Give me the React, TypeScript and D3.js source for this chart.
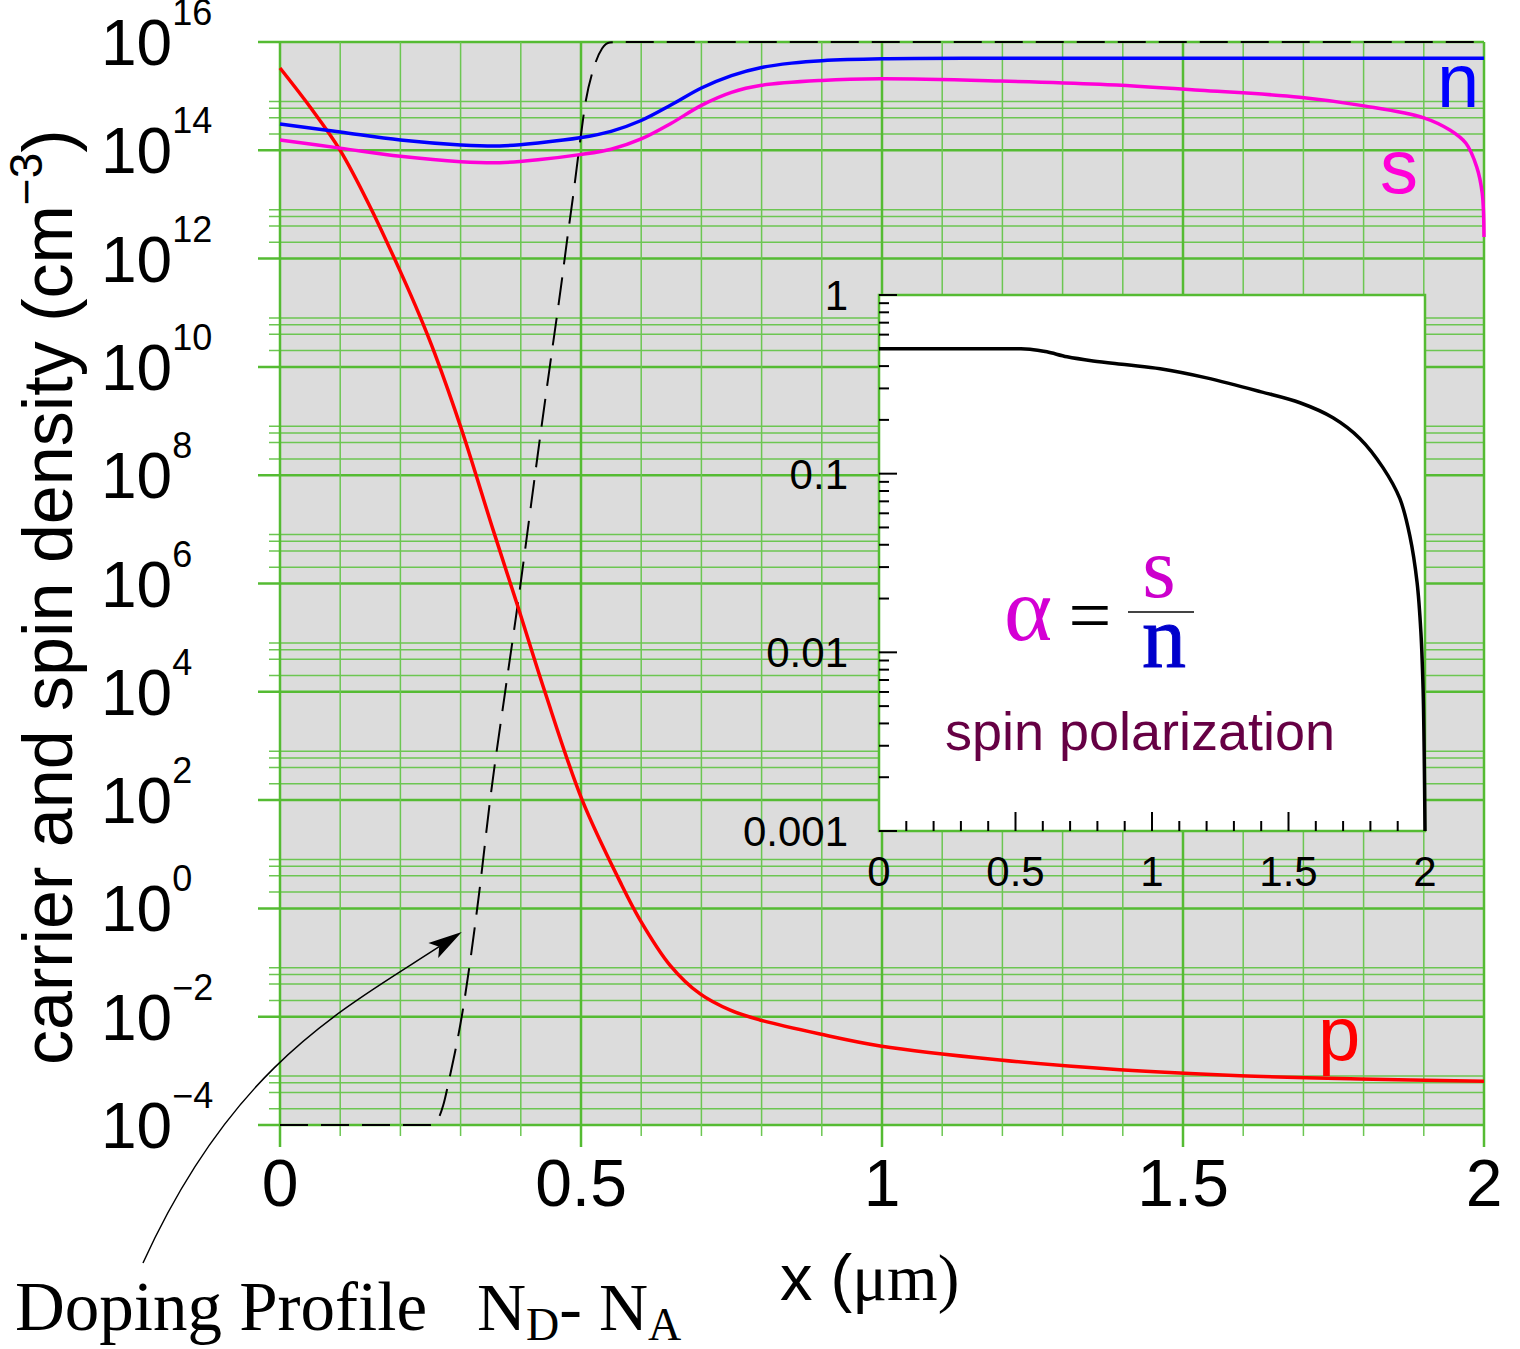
import React from 'react';
import * as d3 from 'd3';

// ---------- data (x in µm, densities as log10 of cm^-3) ----------
const pX = [0, 0.05, 0.1, 0.15, 0.2, 0.233, 0.257, 0.302, 0.354, 0.395, 0.44, 0.502, 0.565, 0.598, 0.648, 0.698, 0.748, 0.797, 0.897, 0.997, 1.196, 1.395, 1.595, 1.794, 2.0];
const pLog = [15.52, 14.8, 14.0, 12.95, 11.76, 10.92, 10.25, 8.83, 6.99, 5.58, 4.0, 2.0, 0.49, -0.21, -1.05, -1.58, -1.88, -2.06, -2.32, -2.54, -2.8, -2.98, -3.09, -3.15, -3.19];

const nX = [0, 0.1, 0.2, 0.3, 0.365, 0.432, 0.498, 0.55, 0.6, 0.65, 0.7, 0.75, 0.8, 0.85, 0.9, 1.0, 1.2, 2.0];
const nLog = [14.486, 14.338, 14.19, 14.1, 14.08, 14.14, 14.23, 14.35, 14.55, 14.84, 15.15, 15.38, 15.53, 15.61, 15.655, 15.69, 15.7, 15.7];

const sX = [0, 0.1, 0.2, 0.3, 0.365, 0.432, 0.498, 0.55, 0.6, 0.65, 0.7, 0.75, 0.8, 0.9, 0.997, 1.196, 1.362, 1.528, 1.694, 1.801, 1.9, 1.944, 1.97, 1.988, 1.997, 2.0];
const sLog = [14.19, 14.04, 13.89, 13.79, 13.77, 13.83, 13.92, 14.02, 14.21, 14.5, 14.83, 15.07, 15.2, 15.29, 15.32, 15.28, 15.22, 15.11, 14.98, 14.82, 14.6, 14.37, 14.13, 13.69, 13.21, 12.4];

const dopX = [0, 0.25, 0.262, 0.271, 0.282, 0.302, 0.331, 0.349, 0.374, 0.396, 0.417, 0.432, 0.449, 0.467, 0.477, 0.488, 0.498, 0.507, 0.522, 0.535, 0.548, 0.57, 2.0];
const dopLog = [-4, -4, -3.9, -3.64, -3.11, -1.99, 0.3, 2.0, 4.0, 5.7, 7.45, 8.7, 10.07, 11.5, 12.35, 13.25, 14.12, 14.85, 15.55, 15.88, 15.99, 16, 16];

const alphaX = [0, 0.5, 0.553, 0.615, 0.689, 0.784, 0.908, 1.03, 1.2, 1.4, 1.542, 1.663, 1.762, 1.846, 1.908, 1.945, 1.971, 1.985, 1.993, 1.997, 2.0];
const alphaLog = [-0.301, -0.301, -0.303, -0.318, -0.346, -0.369, -0.391, -0.413, -0.464, -0.542, -0.603, -0.687, -0.804, -0.966, -1.14, -1.352, -1.609, -1.888, -2.207, -2.56, -3.0];

// annotation arrow (cubic: start, control 1, control 2, tip), in data coords (x µm, log10 density)
const arrowX = [-0.2276, -0.078, 0.103, 0.302];
const arrowLog = [-6.548, -2.892, -1.876, -0.436];

// ticks
const xTickVals = [0, 0.5, 1, 1.5, 2];
const xTickLabels = ['0', '0.5', '1', '1.5', '2'];
const yExps = [-4, -2, 0, 2, 4, 6, 8, 10, 12, 14, 16];
const minorMult = [2, 4, 6, 8];
const insetYVals = [1, 0.1, 0.01, 0.001];
const insetYLabels = ['1', '0.1', '0.01', '0.001'];

const GM = '#55bb33';
const Gm = '#6cc652';
const SANS = '"Liberation Sans", Arial, sans-serif';
const SERIF = '"Liberation Serif", "Times New Roman", serif';

export default function App() {
  const svgW = 1520;
  const svgH = 1349;
  const x = d3.scaleLinear().domain([0, 2]).range([280, 1484]);
  const y = d3.scaleLog().domain([1e-4, 1e16]).range([1125, 42]);
  const xi = d3.scaleLinear().domain([0, 2]).range([879, 1425]);
  const yi = d3.scaleLog().domain([1e-3, 1]).range([831, 295]);

  const zip = (xs: number[], ls: number[]) => xs.map((v, i) => [v, ls[i]] as [number, number]);
  const mainLine = d3.line<[number, number]>().x(d => x(d[0])).y(d => y(Math.pow(10, d[1]))).curve(d3.curveCatmullRom.alpha(0.5));
  const dopLine = d3.line<[number, number]>().x(d => x(d[0])).y(d => y(Math.pow(10, d[1]))).curve(d3.curveMonotoneX);
  const insetLine = d3.line<[number, number]>().x(d => xi(d[0])).y(d => yi(Math.pow(10, d[1]))).curve(d3.curveCatmullRom.alpha(0.5));

  const x0 = x(0);
  const x2 = x(2);
  const yTop = y(1e16);
  const yBot = y(1e-4);

  // grid
  const vLines: any[] = [];
  for (let k = 0; k <= 20; k++) {
    const v = k / 10;
    const major = k % 5 === 0;
    vLines.push(<line key={'v' + k} x1={x(v)} x2={x(v)} y1={yTop} y2={major ? yBot + 22 : yBot + 11} stroke={major ? GM : Gm} strokeWidth={major ? 2.5 : 1.5} />);
  }
  const hLines: any[] = [];
  yExps.forEach(e => {
    hLines.push(<line key={'h' + e} x1={x0 - 22} x2={x2} y1={y(Math.pow(10, e))} y2={y(Math.pow(10, e))} stroke={GM} strokeWidth={2.5} />);
    if (e < 16) {
      minorMult.forEach(m => {
        const yy = y(m * Math.pow(10, e));
        hLines.push(<line key={'h' + e + '_' + m} x1={x0 - 11} x2={x2} y1={yy} y2={yy} stroke={Gm} strokeWidth={1.5} />);
      });
    }
  });

  // arrow
  const aPx = zip(arrowX, arrowLog).map(d => [x(d[0]), y(Math.pow(10, d[1]))]);
  const tip = aPx[3];
  const prev = aPx[2];
  const ang = Math.atan2(tip[1] - prev[1], tip[0] - prev[0]);
  const headLen = 34;
  const headHalf = 9;
  const notch = 27;
  const ca = Math.cos(ang);
  const sa = Math.sin(ang);
  const pt = (a: number, b: number) => [tip[0] - a * ca + b * sa, tip[1] - a * sa - b * ca];
  const b1 = pt(headLen, headHalf);
  const b2 = pt(headLen, -headHalf);
  const nb = pt(notch, 0);
  const headPath = `M${tip[0]},${tip[1]}L${b1[0]},${b1[1]}L${nb[0]},${nb[1]}L${b2[0]},${b2[1]}Z`;
  const sp = d3.path();
  sp.moveTo(aPx[0][0], aPx[0][1]);
  sp.bezierCurveTo(aPx[1][0], aPx[1][1], aPx[2][0], aPx[2][1], nb[0], nb[1]);
  const shaftPath = sp.toString();

  // inset ticks
  const insetTicks: any[] = [];
  for (let e = -3; e <= 0; e++) {
    const yy = yi(Math.pow(10, e));
    insetTicks.push(<line key={'im' + e} x1={xi(0)} x2={xi(0) + 18} y1={yy} y2={yy} stroke="#000" strokeWidth={2} />);
    if (e < 0) {
      for (let m = 2; m <= 9; m++) {
        const ym = yi(m * Math.pow(10, e));
        insetTicks.push(<line key={'in' + e + '_' + m} x1={xi(0)} x2={xi(0) + 10} y1={ym} y2={ym} stroke="#000" strokeWidth={2} />);
      }
    }
  }
  for (let k = 1; k < 20; k++) {
    const v = k / 10;
    const major = k % 5 === 0;
    insetTicks.push(<line key={'ib' + k} x1={xi(v)} x2={xi(v)} y1={yi(1e-3)} y2={yi(1e-3) - (major ? 19 : 10)} stroke="#000" strokeWidth={2} />);
  }

  return (
    <svg width={svgW} height={svgH} style={{ position: 'absolute', left: 0, top: 0, background: '#fff' }} xmlns="http://www.w3.org/2000/svg">
      <rect x={x0} y={yTop} width={x2 - x0} height={yBot - yTop} fill="#dcdcdc" />
      {hLines}
      {vLines}

      <path d={dopLine(zip(dopX, dopLog)) || ''} fill="none" stroke="#000" strokeWidth={2} strokeDasharray="28,13" />
      <path d={mainLine(zip(pX, pLog)) || ''} fill="none" stroke="#ff0000" strokeWidth={3.5} />
      <path d={mainLine(zip(sX, sLog)) || ''} fill="none" stroke="#ff00d8" strokeWidth={3.5} />
      <path d={mainLine(zip(nX, nLog)) || ''} fill="none" stroke="#0000ff" strokeWidth={3.5} />

      <rect x={xi(0)} y={yi(1)} width={xi(2) - xi(0)} height={yi(1e-3) - yi(1)} fill="#fff" stroke={GM} strokeWidth={2.5} />
      {insetTicks}
      <path d={insetLine(zip(alphaX, alphaLog)) || ''} fill="none" stroke="#000" strokeWidth={3.5} />
      {insetYVals.map((v, i) => (
        <text key={'iyl' + i} x={xi(0) - 31} y={yi(v) + 15} textAnchor="end" fontFamily={SANS} fontSize={42}>{insetYLabels[i]}</text>
      ))}
      {xTickVals.map((v, i) => (
        <text key={'ixl' + i} x={xi(v)} y={yi(1e-3) + 55} textAnchor="middle" fontFamily={SANS} fontSize={42}>{xTickLabels[i]}</text>
      ))}
      <text x={1004} y={640} fontFamily={SERIF} fontSize={92} fill="#d400d4">α</text>
      <text x={1090} y={641} textAnchor="middle" fontFamily={SERIF} fontSize={76} fill="#000">=</text>
      <line x1={1128} x2={1194} y1={612} y2={612} stroke="#444" strokeWidth={2} />
      <text x={1159} y={597} textAnchor="middle" fontFamily={SERIF} fontSize={86} fill="#cc00cc">s</text>
      <text x={1164} y={667} textAnchor="middle" fontFamily={SERIF} fontSize={88} fill="#0000cc" stroke="#0000cc" strokeWidth={1}>n</text>
      <text x={1140} y={750} textAnchor="middle" fontFamily={SANS} fontSize={54} fill="#660044">spin polarization</text>

      {yExps.map(e => (
        <text key={'yl' + e} x={101} y={y(Math.pow(10, e)) + 23} fontFamily={SANS} fontSize={64}>
          10<tspan dy={-40} fontSize={36}>{e < 0 ? '\u2212' + Math.abs(e) : String(e)}</tspan>
        </text>
      ))}
      {xTickVals.map((v, i) => (
        <text key={'xl' + i} x={x(v)} y={1206} textAnchor="middle" fontFamily={SANS} fontSize={66}>{xTickLabels[i]}</text>
      ))}

      <text transform="translate(72,1065) rotate(-90)" fontFamily={SANS} fontSize={70}>
        carrier and spin density (cm<tspan dy={-30} fontSize={46}>{'\u2212'}3</tspan><tspan dy={30}>)</tspan>
      </text>
      <text x={780} y={1300} fontFamily={SANS} fontSize={65}>x (<tspan fontFamily={SERIF}>μm)</tspan></text>

      <text x={1437} y={107} fontFamily={SANS} fontSize={76} fill="#0000ff">n</text>
      <text x={1380} y={193} fontFamily={SANS} fontSize={76} fill="#ff00d8">s</text>
      <text x={1318} y={1060} fontFamily={SANS} fontSize={76} fill="#ff0000">p</text>

      <path d={shaftPath} fill="none" stroke="#000" strokeWidth={1.5} />
      <path d={headPath} fill="#000" />
      <text x={15} y={1330} fontFamily={SERIF} fontSize={69}>Doping Profile</text>
      <text x={477} y={1330} fontFamily={SERIF} fontSize={68}>N<tspan fontSize={46} dy={10}>D</tspan><tspan dy={-10}>- N</tspan><tspan fontSize={46} dy={10}>A</tspan></text>
    </svg>
  );
}
